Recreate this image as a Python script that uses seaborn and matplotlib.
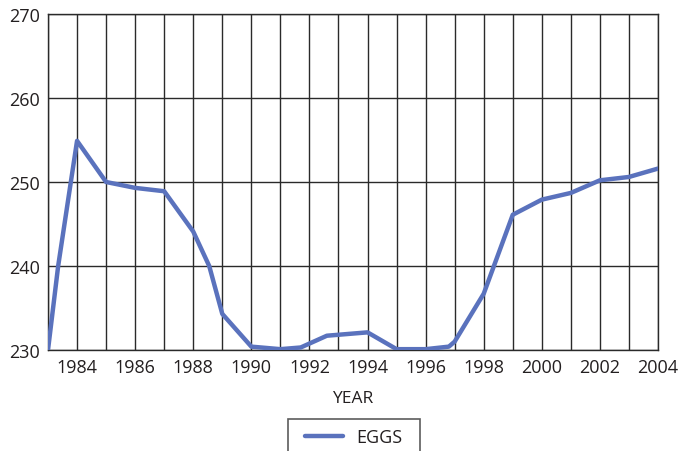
import pandas as pd
import matplotlib.pyplot as plt
import seaborn as sns
from matplotlib.path import Path

# Valores
anos = [1983, 1983.35, 1984, 1985, 1986, 1987, 1988, 1988.55, 1989, 1990,
        1991, 1991.7, 1992.6, 1994, 1995, 1996, 1996.8, 1997, 1998, 1999,
        2000, 2001, 2002, 2003, 2004]
ovos = [230.0, 240.0, 254.9, 250.0, 249.3, 248.9, 244.1, 240.0, 234.3, 230.4,
        230.1, 230.3, 231.7, 232.1, 230.1, 230.1, 230.4, 231.0, 236.7, 246.1,
        247.9, 248.7, 250.2, 250.6, 251.6]
ticks_x = list(range(1983, 2005))
ticks_y = [230, 240, 250, 260, 270]

df = pd.DataFrame({"YEAR": anos, "EGGS": ovos})

sns.set_style("white")
plt.rcParams["font.family"] = ["Open Sans", "DejaVu Sans"]

fig = plt.figure(figsize=(6.89, 4.52), dpi=100)
ax = fig.add_axes([48 / 689, 1 - 351 / 452, 610 / 689, 336 / 452])

sns.lineplot(data=df, x="YEAR", y="EGGS", estimator=None, sort=False,
             color="#5a72bd", linewidth=3.2, label="EGGS", ax=ax, zorder=3)

ax.set_xlim(1983, 2004)
ax.set_ylim(230, 270)
ax.set_xticks(ticks_x)
ax.set_xticklabels([str(a) if a % 2 == 0 else "" for a in ticks_x])
ax.set_yticks(ticks_y)
ax.tick_params(length=0, labelsize=13, colors="#231f20", pad=6)
ax.grid(True, color="#2a2a2a", linewidth=1.0)
for s in ax.spines.values():
    s.set_color("#2a2a2a")
    s.set_linewidth(1.0)

ax.set_xlabel("YEAR", fontsize=12.5, color="#231f20", labelpad=10)
ax.set_ylabel("")


# caixa da legenda mais larga que alta (e cortada embaixo, como no original)
def caixa_larga(x0, y0, w, h, ms):
    px = 0.47 * ms
    baixo = 0.6 * ms
    return Path([(x0 - px, y0 - baixo), (x0 + w + px, y0 - baixo),
                 (x0 + w + px, y0 + h), (x0 - px, y0 + h),
                 (x0 - px, y0 - baixo)], closed=True)


ax.get_legend().remove()
leg = fig.legend(*ax.get_legend_handles_labels(), loc="upper center",
                 bbox_to_anchor=(354 / 689, 1 - 420 / 452), fontsize=13,
                 frameon=True, fancybox=False, handlelength=2.1,
                 borderpad=0.5, handletextpad=0.75, borderaxespad=0)
leg.get_frame().set_boxstyle(caixa_larga)
leg.get_frame().set_edgecolor("#333333")
leg.get_frame().set_linewidth(1.2)
for t in leg.get_texts():
    t.set_color("#231f20")

plt.savefig("out.png", dpi=100)
plt.close()
